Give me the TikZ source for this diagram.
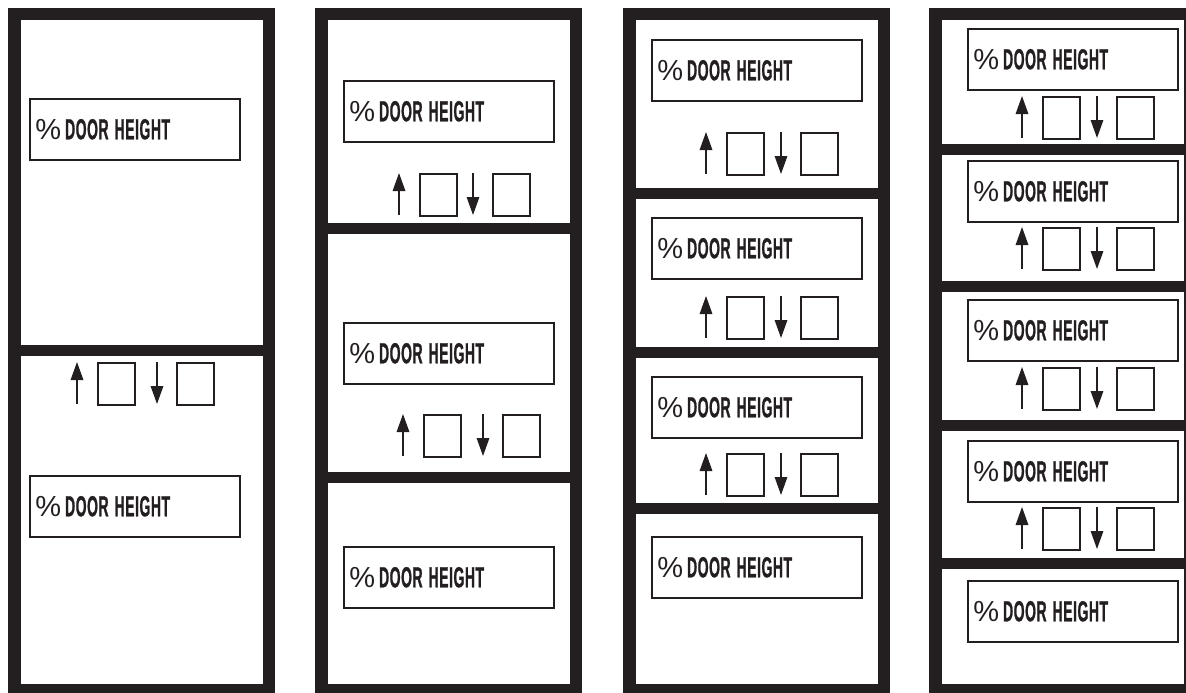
\documentclass[tikz,border=0pt]{standalone}
\usepackage{fontspec}
\setmainfont{Liberation Sans}
\newfontfamily\doorfont{Liberation Sans}[FakeStretch=0.48, FakeBold=0.8, LetterSpace=2]
\usetikzlibrary{arrows.meta}
\definecolor{ink}{HTML}{231F20}
\newcommand{\FrameW}{267}
\newcommand{\BoxW}{210}
\newcommand{\BoxH}{61}
\newcommand{\KeyW}{37}
\newcommand{\KeyH}{42}
\newcommand{\ReadText}{{\fontsize{29}{29}\selectfont\%}\hspace{4pt}{\doorfont\bfseries\fontsize{29}{29}\selectfont DOOR\hspace{6pt}HEIGHT}}

\begin{document}
\begin{tikzpicture}[
    x=1pt, y=-1pt, ink,
    frame/.style={draw=ink, line width=12.5pt},
    divider/.style={draw=ink, line width=11pt},
    readout/.style={draw=ink, line width=1.6pt, anchor=north west, minimum width=\BoxW pt, minimum height=\BoxH pt, text width=\BoxW pt - 11pt, inner xsep=5.5pt, inner ysep=0pt, align=left},
    keybox/.style={draw=ink, line width=1.6pt, anchor=north west, minimum width=\KeyW pt, minimum height=\KeyH pt, inner sep=0pt},
    key arrow/.style={draw=ink, line width=1.6pt, -{Triangle[length=18pt, width=12.5pt]}},
  ]
\useasboundingbox (0,0) rectangle (1186,693);

% Door frames, by outer left edge.
\foreach \p/\lx in {1/8, 2/315, 3/623, 4/929} {
  \draw[frame] (\lx+6.25, 14.25) rectangle (\lx+\FrameW-6.25, 690.25);
}

% Section joints.
\foreach \lx/\dy in {8/350, 315/228, 315/477.5, 623/193.5, 623/352.5, 623/508.5,
    929/149.5, 929/286.5, 929/425.5, 929/563} {
  \draw[divider] (\lx, \dy) -- ++(\FrameW, 0);
}

% Height readouts: door, section, top left corner.
\foreach \p/\s/\bx/\by in {1/1/29/98, 1/2/29/475,
    2/1/343/80, 2/2/343/322, 2/3/343/546,
    3/1/651/39, 3/2/651/217, 3/3/651/376, 3/4/651/536,
    4/1/967/28, 4/2/967/160, 4/3/967/299, 4/4/967/440, 4/5/967/580} {
  \node[readout] (read\p\s) at (\bx, \by) {\ReadText};
}

% Up/down keys: door, section, up arrow x, top y, offset of the down arrow.
\foreach \p/\s/\ux/\uy/\dn in {1/1/77/362/80,
    2/1/399/173/74, 2/2/403/414/80,
    3/1/706/132/75, 3/2/706/296/75, 3/3/706/453/75,
    4/1/1022/96/75, 4/2/1022/227/75, 4/3/1022/367/75, 4/4/1022/507/75} {
  \coordinate (up\p\s-foot) at (\ux, \uy+\KeyH);
  \coordinate (up\p\s-tip) at (\ux, \uy);
  \draw[key arrow] (up\p\s-foot) -- (up\p\s-tip);
  \node[keybox] (upkey\p\s) at (\ux+20, \uy) {};
  \coordinate (dn\p\s-foot) at (\ux+\dn, \uy);
  \coordinate (dn\p\s-tip) at (\ux+\dn, \uy+\KeyH);
  \draw[key arrow] (dn\p\s-foot) -- (dn\p\s-tip);
  \node[keybox] (dnkey\p\s) at (\ux+\dn+19, \uy) {};
}

\end{tikzpicture}
\end{document}
